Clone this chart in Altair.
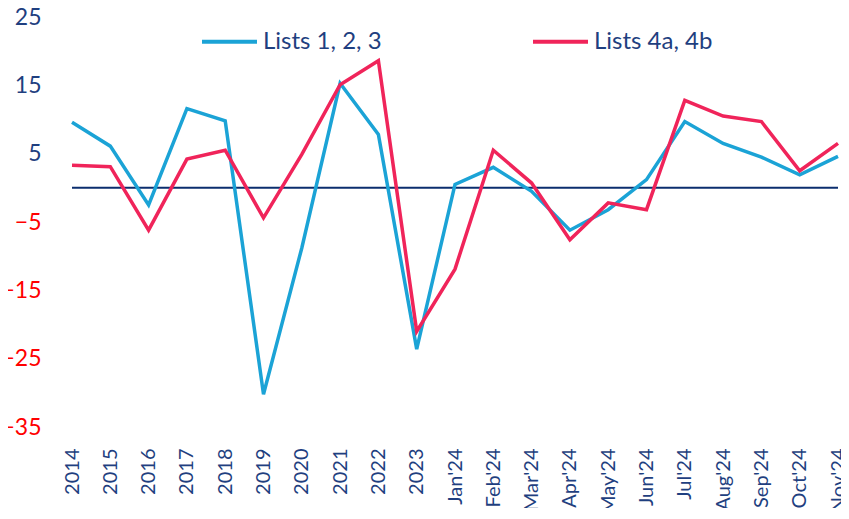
import altair as alt
import pandas as pd

periods = ["2014", "2015", "2016", "2017", "2018", "2019", "2020", "2021", "2022", "2023",
           "Jan'24", "Feb'24", "Mar'24", "Apr'24", "May'24", "Jun'24", "Jul'24", "Aug'24",
           "Sep'24", "Oct'24", "Nov'24"]
lists_123 = [9.6, 6.1, -2.5, 11.6, 9.8, -30.2, -8.8, 15.3, 7.8, -23.6,
             0.5, 3.0, -0.5, -6.2, -3.2, 1.2, 9.7, 6.5, 4.5, 1.9, 4.6]
lists_4ab = [3.3, 3.1, -6.2, 4.2, 5.5, -4.4, 4.9, 15.1, 18.6, -21.0,
             -11.9, 5.5, 0.7, -7.6, -2.2, -3.2, 12.8, 10.5, 9.7, 2.5, 6.5]
series_names = ["Lists 1, 2, 3", "Lists 4a, 4b"]
series_colors = ["#1BA3D6", "#F0245A"]
y_ticks = [-35, -25, -15, -5, 5, 15, 25]

rows = []
for name, vals in zip(series_names, [lists_123, lists_4ab]):
    for p, v in zip(periods, vals):
        rows.append({"period": p, "value": v, "series": name})
df = pd.DataFrame(rows)

navy = "#1F3F80"
font = "Lato"

x_enc = alt.X("period:O", sort=periods,
              scale=alt.Scale(type="point", padding=0),
              axis=alt.Axis(title=None, labelAngle=-90, labelFontSize=20, labelColor=navy,
                            labelFont=font, domain=False, ticks=False, labelPadding=21,
                            grid=False))
y_enc = alt.Y("value:Q",
              scale=alt.Scale(domain=[-35, 25], nice=False, zero=False),
              axis=alt.Axis(title=None, values=y_ticks, labelFontSize=23, labelFont=font,
                            labelColor={"expr": "datum.value < 0 ? '#FF0000' : '#1F3F80'"},
                            domain=False, ticks=False, grid=False, labelPadding=31))

lines = alt.Chart(df).mark_line(strokeWidth=3.5).encode(
    x=x_enc,
    y=y_enc,
    color=alt.Color("series:N", sort=series_names,
                    scale=alt.Scale(domain=series_names, range=series_colors),
                    legend=alt.Legend(title=None, orient="none", legendX=128, legendY=-5,
                                      direction="horizontal", symbolType="stroke",
                                      symbolSize=3025, symbolStrokeWidth=4,
                                      labelFontSize=24, labelFont=font, labelColor=navy,
                                      labelOffset=4, columnPadding=143)),
)

zero_df = pd.DataFrame({"value": [0]})
zero = alt.Chart(zero_df).mark_rule(color="#0B2E6E", strokeWidth=2).encode(y="value:Q")

chart = alt.layer(zero, lines).properties(
    width=766, height=410,
    autosize=alt.AutoSizeParams(type="none"),
    padding={"left": 64, "top": 9, "right": 3, "bottom": 81},
).configure_view(stroke=None)

chart.save("out.html", embed_options={"renderer": "svg", "actions": False})
